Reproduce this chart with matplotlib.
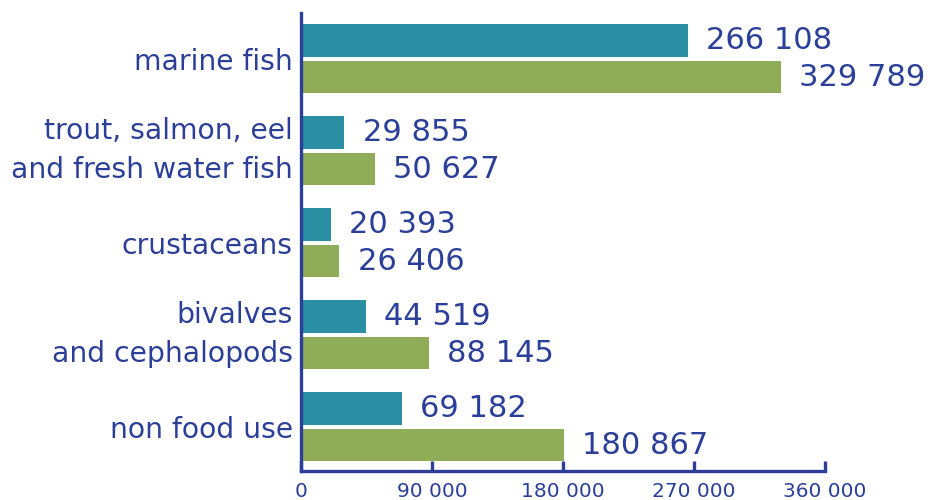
import matplotlib
matplotlib.use("Agg")
import matplotlib.pyplot as plt
import matplotlib.transforms as mtransforms
import numpy as np

# data
categories = ["marine fish", "trout, salmon, eel\nand fresh water fish", "crustaceans",
              "bivalves\nand cephalopods", "non food use"]
series_a = [266108, 29855, 20393, 44519, 69182]
series_b = [329789, 50627, 26406, 88145, 180867]
x_ticks = [0, 90000, 180000, 270000, 360000]

teal = "#2a8fa3"
green = "#8fac59"
blue = "#2b3f98"


def fmt(v):
    # space as thousands separator
    return f"{v:,}".replace(",", " ")


fig = plt.figure(figsize=(9.35, 5.0), dpi=100)
ax = fig.add_axes([0.322, 0.058, 0.56, 0.916])

y = np.arange(len(categories))
h = 0.35
ax.barh(y - 0.2, series_a, height=h, color=teal)
ax.barh(y + 0.2, series_b, height=h, color=green)

# value labels to the right of each bar
for yi, a, b in zip(y, series_a, series_b):
    ax.text(a + 12500, yi - 0.2, fmt(a), va="center", ha="left", fontsize=22, color=blue)
    ax.text(b + 12500, yi + 0.2, fmt(b), va="center", ha="left", fontsize=22, color=blue)

ax.set_xlim(0, 360000)
ax.set_ylim(4.48, -0.5)
ax.set_yticks(y)
ax.set_yticklabels(categories, fontsize=20.3, color=blue, linespacing=1.52)
ax.tick_params(axis="y", length=0, pad=6)

# two-line labels sit a little high in the original
shift = mtransforms.ScaledTranslation(0, 0.09, fig.dpi_scale_trans)
for lab in ax.get_yticklabels():
    if "\n" in lab.get_text():
        lab.set_transform(lab.get_transform() + shift)

ax.set_xticks(x_ticks)
ax.set_xticklabels([fmt(t) for t in x_ticks], fontsize=14.5, color=blue)
ax.tick_params(axis="x", direction="in", length=7, width=2.4, color=blue, pad=8)

for side in ["top", "right"]:
    ax.spines[side].set_visible(False)
for side in ["left", "bottom"]:
    ax.spines[side].set_color(blue)
    ax.spines[side].set_linewidth(2.4)

fig.savefig("out.png", dpi=100)
